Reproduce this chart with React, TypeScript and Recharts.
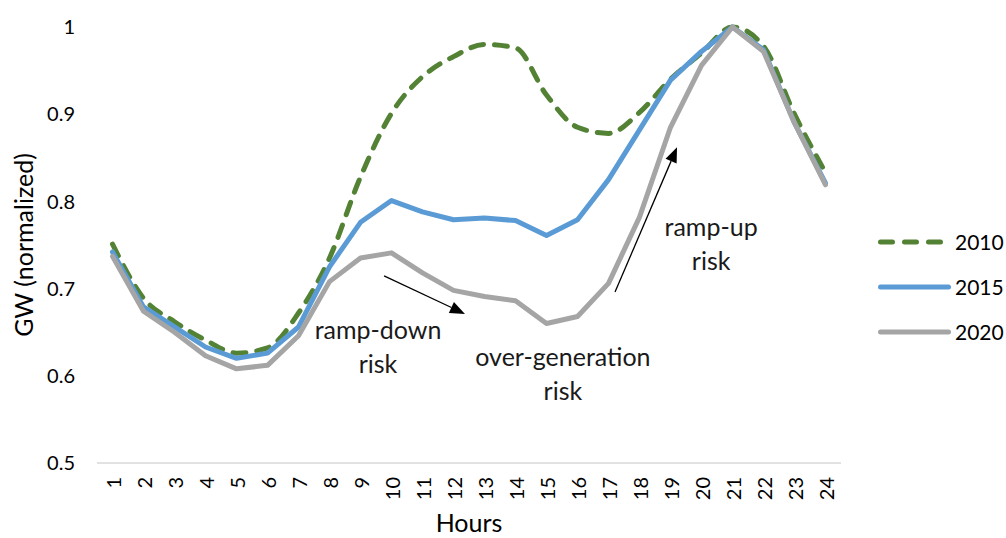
import { Legend, Line, LineChart, ReferenceDot, ReferenceLine, XAxis, YAxis } from "recharts";

const hours = [1, 2, 3, 4, 5, 6, 7, 8, 9, 10, 11, 12, 13, 14, 15, 16, 17, 18, 19, 20, 21, 22, 23, 24];

const load2010 = [0.751, 0.689, 0.662, 0.641, 0.626, 0.632, 0.672, 0.735, 0.828, 0.901, 0.943, 0.966, 0.98, 0.976, 0.922, 0.885, 0.878, 0.902, 0.94, 0.97, 1.0, 0.978, 0.9, 0.833];
const load2015 = [0.742, 0.679, 0.656, 0.633, 0.62, 0.626, 0.656, 0.725, 0.776, 0.801, 0.788, 0.779, 0.781, 0.778, 0.761, 0.779, 0.825, 0.882, 0.939, 0.972, 1.0, 0.974, 0.89, 0.821];
const load2020 = [0.737, 0.674, 0.65, 0.623, 0.608, 0.612, 0.646, 0.708, 0.735, 0.741, 0.718, 0.698, 0.691, 0.686, 0.66, 0.668, 0.706, 0.782, 0.885, 0.956, 1.0, 0.972, 0.89, 0.819];

const yTicks = [0.5, 0.6, 0.7, 0.8, 0.9, 1];

// annotation arrows (hour, GW) pairs
const rampDownArrow = [{ x: 9.76, y: 0.7145 }, { x: 12.37, y: 0.671 }];
const rampUpArrow = [{ x: 17.21, y: 0.696 }, { x: 19.21, y: 0.862 }];

const notes = [
    { x: 9.565, y: 0.6514, lines: ["ramp-down", "risk"] },
    { x: 15.53, y: 0.6204, lines: ["over-generation", "risk"] },
    { x: 20.31, y: 0.7695, lines: ["ramp-up", "risk"] },
];

const series = [
    { key: "y2010", name: "2010", color: "#548235", dash: "13 11", type: "monotone" as const },
    { key: "y2015", name: "2015", color: "#5B9BD5", dash: undefined, type: "linear" as const },
    { key: "y2020", name: "2020", color: "#A5A5A5", dash: undefined, type: "linear" as const },
];

const data = hours.map((h, i) => ({ hour: h, y2010: load2010[i], y2015: load2015[i], y2020: load2020[i] }));

const FONT = "Lato, 'Liberation Sans', sans-serif";

function Arrow(p: any) {
    const { x1, y1, x2, y2 } = p;
    const dx = x2 - x1;
    const dy = y2 - y1;
    const len = Math.hypot(dx, dy);
    const ux = dx / len;
    const uy = dy / len;
    const head = 15;
    const hw = 6;
    const bx = x2 - ux * head;
    const by = y2 - uy * head;
    return (
        <g>
            <line x1={x1} y1={y1} x2={bx} y2={by} stroke="#000" strokeWidth={1.3} />
            <polygon
                points={`${x2},${y2} ${bx - uy * hw},${by + ux * hw} ${bx + uy * hw},${by - ux * hw}`}
                fill="#000"
            />
        </g>
    );
}

function NoteText(lines: string[]) {
    return (p: any) => (
        <text x={p.cx} y={p.cy} textAnchor="middle" fontSize={25} fontFamily={FONT} fill="#1a1a1a">
            {lines.map((l, i) => (
                <tspan key={i} x={p.cx} dy={i === 0 ? 8 : 34}>{l}</tspan>
            ))}
        </text>
    );
}

function HourTick(p: any) {
    const { x, y, payload } = p;
    return (
        <text
            x={x}
            y={y}
            transform={`rotate(-90, ${x}, ${y})`}
            textAnchor="end"
            dominantBaseline="central"
            fontSize={20}
            fontFamily={FONT}
            fill="#000"
        >
            {payload.value}
        </text>
    );
}

function LegendBox() {
    return (
        <div style={{ fontFamily: FONT }}>
            {series.map((s) => (
                <div key={s.key} style={{ display: "flex", alignItems: "center", height: 45 }}>
                    <svg width={78} height={10}>
                        <line
                            x1={3.5}
                            y1={5}
                            x2={71.5}
                            y2={5}
                            stroke={s.color}
                            strokeWidth={5}
                            strokeLinecap="round"
                            strokeDasharray={s.dash ? "12 12" : undefined}
                        />
                    </svg>
                    <span style={{ fontSize: 21, color: "#000", lineHeight: 1 }}>{s.name}</span>
                </div>
            ))}
        </div>
    );
}

export default function App() {
    return (
        <div style={{ position: "absolute", left: 0, top: 0, width: 1006, height: 538, background: "#fff" }}>
            <LineChart
                width={1006}
                height={538}
                data={data}
                margin={{ top: 27, right: 37, bottom: 0, left: 0 }}
                style={{ fontFamily: FONT }}
            >
                <XAxis
                    dataKey="hour"
                    type="number"
                    domain={[0.5, 24.5]}
                    ticks={hours}
                    interval={0}
                    height={75}
                    tickSize={0}
                    tickMargin={14}
                    tick={<HourTick />}
                    axisLine={{ stroke: "#D9D9D9", strokeWidth: 1.5 }}
                    tickLine={false}
                    label={{ value: "Hours", position: "insideBottom", offset: 6, fontSize: 25, fill: "#000", fontFamily: FONT }}
                />
                <YAxis
                    type="number"
                    domain={[0.5, 1]}
                    ticks={yTicks}
                    width={97}
                    tickSize={0}
                    tickMargin={22}
                    axisLine={false}
                    tickLine={false}
                    tick={{ fontSize: 20, fill: "#000", fontFamily: FONT }}
                    label={{
                        content: ({ viewBox }: any) => (
                            <text
                                x={viewBox.x + 23}
                                y={viewBox.y + viewBox.height / 2}
                                transform={`rotate(-90, ${viewBox.x + 23}, ${viewBox.y + viewBox.height / 2})`}
                                textAnchor="middle"
                                dominantBaseline="central"
                                fontSize={25}
                                fontFamily={FONT}
                                fill="#000"
                            >
                                GW (normalized)
                            </text>
                        ),
                    }}
                />
                <Legend
                    layout="vertical"
                    align="right"
                    verticalAlign="top"
                    content={<LegendBox />}
                    wrapperStyle={{ left: 877, top: 219, width: 128 }}
                />
                {series.map((s) => (
                    <Line
                        key={s.key}
                        dataKey={s.key}
                        name={s.name}
                        type={s.type}
                        stroke={s.color}
                        strokeWidth={5}
                        strokeDasharray={s.dash}
                        strokeLinecap="round"
                        strokeLinejoin="round"
                        dot={false}
                        activeDot={false}
                        isAnimationActive={false}
                    />
                ))}
                <ReferenceLine segment={rampDownArrow} shape={Arrow} />
                <ReferenceLine segment={rampUpArrow} shape={Arrow} />
                {notes.map((n, i) => (
                    <ReferenceDot key={i} x={n.x} y={n.y} r={1} shape={NoteText(n.lines)} />
                ))}
            </LineChart>
        </div>
    );
}
